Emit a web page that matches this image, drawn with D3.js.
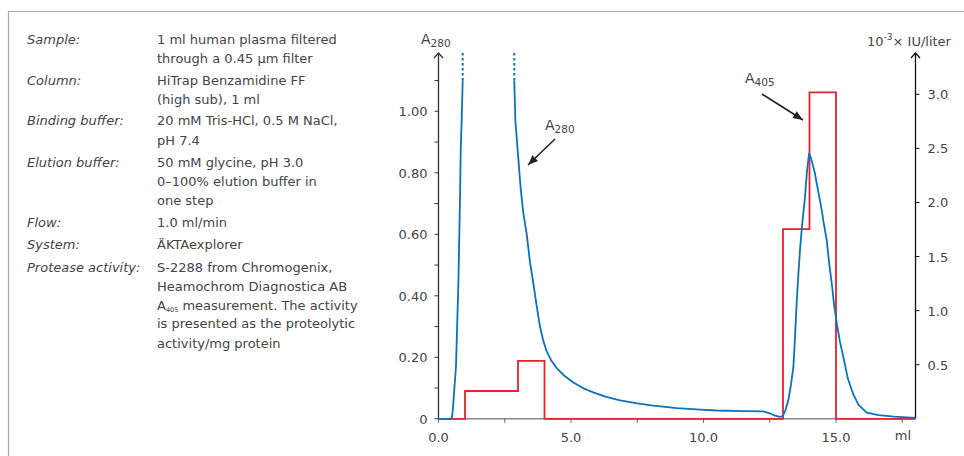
<!DOCTYPE html>
<html><head><meta charset="utf-8">
<script src="https://cdn.jsdelivr.net/npm/d3@7"></script>
<style>
body{margin:0;background:#fff;}
svg{display:block;font-family:"DejaVu Sans",sans-serif;}
</style></head>
<body><svg id="c" width="964" height="456"></svg>
<script>
// ---- data ----
const infoLabels = ["Sample:","Column:","Binding buffer:","Elution buffer:","Flow:","System:","Protease activity:"];
const infoValues = [
  ["1 ml human plasma filtered","through a 0.45 µm filter"],
  ["HiTrap Benzamidine FF","(high sub), 1 ml"],
  ["20 mM Tris-HCl, 0.5 M NaCl,","pH 7.4"],
  ["50 mM glycine, pH 3.0","0–100% elution buffer in","one step"],
  ["1.0 ml/min"],
  ["ÄKTAexplorer"],
  ["S-2288 from Chromogenix,","Heamochrom Diagnostica AB","A405 measurement. The activity","is presented as the proteolytic","activity/mg protein"]
];
const xTicks = [0,5,10,15];
const xMinorTicks = [0,2.5,5,7.5,10,12.5,15,17.5];
const xTickLabels = ["0.0","5.0","10.0","15.0"];
const leftTicks = [0,0.2,0.4,0.6,0.8,1.0];
const leftTickLabels = ["0","0.20","0.40","0.60","0.80","1.00"];
const leftMinorTicks = [0,0.1,0.2,0.3,0.4,0.5,0.6,0.7,0.8,0.9,1.0,1.1];
const rightTicks = [0.5,1.0,1.5,2.0,2.5,3.0];
const rightTickLabels = ["0.5","1.0","1.5","2.0","2.5","3.0"];
// A280 trace (ml, AU) — sample peak rising edge (off scale above 1.10) and the rest
const a280Rise = [[0,0],[0.45,0],[0.5,0.003],[0.53,0.02],[0.56,0.05],[0.6,0.1],[0.66,0.17],[0.7,0.29],[0.75,0.44],[0.79,0.62],[0.81,0.71],[0.84,0.88],[0.87,0.96],[0.913,1.10]];
const a280Fall = [[2.86,1.10],[2.9,0.97],[3.0,0.86],[3.1,0.75],[3.2,0.67],[3.33,0.6],[3.45,0.51],[3.58,0.44],[3.7,0.37],[3.83,0.30],[3.95,0.255],[4.08,0.22],[4.25,0.19],[4.46,0.165],[4.75,0.14],[5.09,0.118],[5.45,0.10],[5.84,0.086],[6.3,0.072],[6.85,0.06],[7.5,0.05],[8.1,0.043],[9.0,0.035],[9.87,0.03],[10.5,0.027],[11.5,0.025],[12.26,0.024],[12.5,0.018],[12.7,0.01],[12.89,0.006],[13.0,0.01],[13.1,0.03],[13.2,0.06],[13.3,0.11],[13.39,0.167],[13.45,0.26],[13.52,0.384],[13.58,0.47],[13.64,0.547],[13.72,0.63],[13.83,0.72],[13.9,0.8],[13.98,0.862],[14.05,0.85],[14.2,0.80],[14.35,0.73],[14.46,0.68],[14.52,0.645],[14.65,0.58],[14.75,0.5],[14.84,0.44],[14.93,0.37],[15.03,0.31],[15.15,0.25],[15.28,0.20],[15.45,0.13],[15.65,0.08],[15.85,0.045],[16.16,0.02],[16.6,0.012],[17.2,0.007],[18,0.003]];
const a280Breaks = [0.913, 2.86]; // where the trace leaves the scale
const a280Top = [1.10, 1.19];
// Protease activity (10^-3 IU/liter), fraction steps: start ml, end ml, value
const activityStart = [0,1,3,4,13,14,15];
const activityEnd   = [1,3,4,13,14,15,18];
const activityValue = [0,0.257,0.535,0,1.753,3.017,0];

// ---- layout ----
const svg = d3.select("#c");
const blue = "#0b72bd", red = "#e8212b", ink = "#444";
const FS = 13;
const x = d3.scaleLinear().domain([0,18]).range([438.5,915.5]);
const yL = d3.scaleLinear().domain([0,1]).range([418.8,111.3]);
const yR = d3.scaleLinear().domain([0,3]).range([418.8,94.3]);

// frame
svg.append("path").attr("d","M8.5,456 V11.5 H964").attr("fill","none").attr("stroke","#a6a6a6").attr("stroke-width",1.2);

// info text
const lineY = [44,63,85,104,125,145,167,186,205,227,249,272,291,310,328,348];
let li = 0;
infoLabels.forEach((lab,i)=>{
  svg.append("text").attr("x",27).attr("y",lineY[li]).attr("font-size",FS).attr("font-style","italic").attr("fill",ink).text(lab);
  infoValues[i].forEach(v=>{
    const t = svg.append("text").attr("x",157).attr("y",lineY[li]).attr("font-size",FS).attr("fill",ink);
    if (v.startsWith("A405")) {
      t.append("tspan").text("A");
      t.append("tspan").attr("font-size",6.5).attr("dy",2).text("405");
      t.append("tspan").attr("dy",-2).text(v.slice(4));
    } else t.text(v);
    li++;
  });
});

// x axis baseline
svg.append("line").attr("x1",x(0)).attr("x2",x(18)).attr("y1",yL(0)).attr("y2",yL(0)).attr("stroke","#888").attr("stroke-width",1.5);
const gx = svg.append("g");
gx.selectAll("line").data(xMinorTicks).join("line").attr("x1",d=>x(d)).attr("x2",d=>x(d)).attr("y1",yL(0)).attr("y2",yL(0)+4).attr("stroke","#666");
gx.selectAll("text").data(xTicks).join("text").attr("x",d=>x(d)).attr("y",yL(0)+23).attr("text-anchor","middle").attr("font-size",FS).attr("fill",ink).text((d,i)=>xTickLabels[i]);
svg.append("text").attr("x",903).attr("y",yL(0)+21).attr("text-anchor","middle").attr("font-size",FS).attr("fill",ink).text("ml");

// left axis
svg.append("line").attr("x1",x(0)).attr("x2",x(0)).attr("y1",53).attr("y2",yL(0)).attr("stroke","#333").attr("stroke-width",1.3);
svg.append("path").attr("d",`M${x(0)-4.5},${58} L${x(0)},${53} L${x(0)+4.5},${58}`).attr("fill","none").attr("stroke","#333").attr("stroke-width",1.3);
const gl = svg.append("g");
gl.selectAll("line").data(leftMinorTicks).join("line").attr("x1",x(0)-4).attr("x2",x(0)).attr("y1",d=>yL(d)).attr("y2",d=>yL(d)).attr("stroke","#333");
gl.selectAll("text").data(leftTicks).join("text").attr("x",x(0)-11).attr("y",d=>yL(d)+5).attr("text-anchor","end").attr("font-size",FS).attr("fill",ink).text((d,i)=>leftTickLabels[i]);
const tl = svg.append("text").attr("x",421).attr("y",44).attr("font-size",14).attr("fill",ink);
tl.append("tspan").text("A"); tl.append("tspan").attr("font-size",10.5).attr("dy",3).text("280");

// right axis
svg.append("line").attr("x1",x(18)).attr("x2",x(18)).attr("y1",53).attr("y2",yL(0)).attr("stroke","#111").attr("stroke-width",1.3);
svg.append("path").attr("d",`M${x(18)-4.5},${58} L${x(18)},${53} L${x(18)+4.5},${58}`).attr("fill","none").attr("stroke","#111").attr("stroke-width",1.3);
const gr = svg.append("g");
gr.selectAll("line").data(rightTicks).join("line").attr("x1",x(18)).attr("x2",x(18)+4).attr("y1",d=>yR(d)).attr("y2",d=>yR(d)).attr("stroke","#111");
gr.selectAll("text").data(rightTicks).join("text").attr("x",x(18)+12).attr("y",d=>yR(d)+5).attr("font-size",FS).attr("fill",ink).text((d,i)=>rightTickLabels[i]);
const tr = svg.append("text").attr("x",867).attr("y",46).attr("font-size",FS).attr("fill",ink);
tr.append("tspan").text("10"); tr.append("tspan").attr("font-size",9).attr("dy",-6).text("-3");
tr.append("tspan").attr("dy",6).text("× IU/liter");

// activity steps
const steps = [];
activityStart.forEach((s,i)=>{ steps.push([s,activityValue[i]]); steps.push([activityEnd[i],activityValue[i]]); });
svg.append("path").datum(steps).attr("fill","none").attr("stroke",red).attr("stroke-width",1.8)
  .attr("d",d3.line().x(d=>x(d[0])).y(d=>yR(d[1])));

// A280 trace
const lineL = d3.line().x(d=>x(d[0])).y(d=>yL(d[1]));
[a280Rise,a280Fall].forEach(seg=>{
  svg.append("path").datum(seg).attr("fill","none").attr("stroke",blue).attr("stroke-width",1.8).attr("stroke-linejoin","round").attr("d",lineL);
});
a280Breaks.forEach(b=>{
  svg.append("line").attr("x1",x(b)).attr("x2",x(b)).attr("y1",yL(a280Top[0])).attr("y2",yL(a280Top[1]))
    .attr("stroke",blue).attr("stroke-width",2).attr("stroke-dasharray","2.5,2.5");
});

// annotations
function arrow(x1,y1,x2,y2){
  svg.append("line").attr("x1",x1).attr("y1",y1).attr("x2",x2).attr("y2",y2).attr("stroke","#222").attr("stroke-width",1.5);
  const a = Math.atan2(y2-y1,x2-x1), L=10, W=4;
  const bx = x2-L*Math.cos(a), by = y2-L*Math.sin(a);
  svg.append("path").attr("d",`M${x2},${y2} L${bx+W*Math.sin(a)},${by-W*Math.cos(a)} L${bx-W*Math.sin(a)},${by+W*Math.cos(a)} Z`).attr("fill","#222");
}
const ta = svg.append("text").attr("x",545).attr("y",130).attr("font-size",14).attr("fill",ink);
ta.append("tspan").text("A"); ta.append("tspan").attr("font-size",10.5).attr("dy",3).text("280");
arrow(555,139,528,165);
const tb = svg.append("text").attr("x",745).attr("y",83).attr("font-size",14).attr("fill",ink);
tb.append("tspan").text("A"); tb.append("tspan").attr("font-size",10.5).attr("dy",3).text("405");
arrow(762,94,803,120);
</script></body></html>
